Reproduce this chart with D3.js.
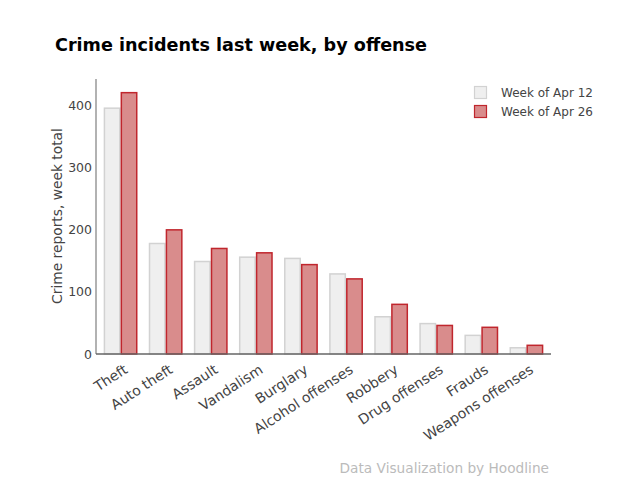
<!DOCTYPE html>
<html><head><meta charset="utf-8">
<script src="https://cdn.jsdelivr.net/npm/d3@7"></script>
<style>body{margin:0;background:#fff;} text{font-family:"DejaVu Sans",sans-serif;}</style>
</head><body>
<svg id="c" width="640" height="492"></svg>
<script>
const categories = ["Theft","Auto theft","Assault","Vandalism","Burglary","Alcohol offenses","Robbery","Drug offenses","Frauds","Weapons offenses"];
const seriesNames = ["Week of Apr 12","Week of Apr 26"];
const apr12 = [396,178,149,156,154,129,60,49,30,10];
const apr26 = [421,200,170,163,144,121,80,46,43,14];
const yTicks = [0,100,200,300,400];
const fills = ["#efefef","#d98c8c"];
const strokes = ["#d2d2d2","#c0262d"];

const svg = d3.select("#c");
const x0 = 96, x1 = 551, yTop = 79, yBot = 354;
const x = d3.scaleBand().domain(categories).range([x0,x1]).paddingInner(0.25).paddingOuter(0.17);
const xs = d3.scaleBand().domain([0,1]).range([0,x.bandwidth()]);
const y = d3.scaleLinear().domain([0,400]).range([yBot,105.7]);

svg.append("text").attr("x",55).attr("y",51).attr("font-size",17.6).attr("font-weight","bold").attr("fill","#000")
  .text("Crime incidents last week, by offense");

const data = [apr12, apr26];
data.forEach((vals,si)=>{
  svg.append("g").selectAll("rect").data(vals).join("rect")
    .attr("x",(d,i)=>x(categories[i])+xs(si)+0.75)
    .attr("y",d=>y(d))
    .attr("width",xs.bandwidth()-1.5)
    .attr("height",d=>yBot-y(d))
    .attr("fill",fills[si]).attr("stroke",strokes[si]).attr("stroke-width",1.5);
});

// y axis
const ya = svg.append("g").attr("transform",`translate(${x0},0)`)
  .call(d3.axisLeft(y).tickValues(yTicks).tickSize(0).tickPadding(4));
ya.select(".domain").remove();
ya.selectAll("text").attr("font-size",12.5).attr("fill","#444").attr("font-family","DejaVu Sans");
svg.append("line").attr("x1",x0).attr("x2",x0).attr("y1",yTop).attr("y2",yBot).attr("stroke","#999").attr("stroke-width",1.5);

// x axis
const xa = svg.append("g").attr("transform",`translate(0,${yBot})`)
  .call(d3.axisBottom(x).tickSize(0).tickPadding(0));
xa.select(".domain").remove();
xa.selectAll("text").attr("font-size",14).attr("fill","#444").attr("font-family","DejaVu Sans")
  .attr("text-anchor","end").attr("dy",0).attr("y",0)
  .attr("transform","translate(8,18) rotate(-33)");
svg.append("line").attr("x1",x0).attr("x2",x1).attr("y1",yBot).attr("y2",yBot).attr("stroke","#666").attr("stroke-width",1.5);

svg.append("text").attr("transform",`translate(62,216) rotate(-90)`)
  .attr("text-anchor","middle").attr("font-size",13.8).attr("fill","#444").text("Crime reports, week total");

// legend
seriesNames.forEach((n,i)=>{
  const ly = 86 + i*19;
  svg.append("rect").attr("x",474.5).attr("y",ly+0.5).attr("width",12).attr("height",12)
    .attr("fill",fills[i]).attr("stroke",strokes[i]).attr("stroke-width",1.2);
  svg.append("text").attr("x",501).attr("y",ly+11).attr("font-size",12).attr("fill","#444").text(n);
});

svg.append("text").attr("x",549).attr("y",473).attr("text-anchor","end").attr("font-size",13.7).attr("fill","#bbb")
  .text("Data Visualization by Hoodline");
</script>
</body></html>
